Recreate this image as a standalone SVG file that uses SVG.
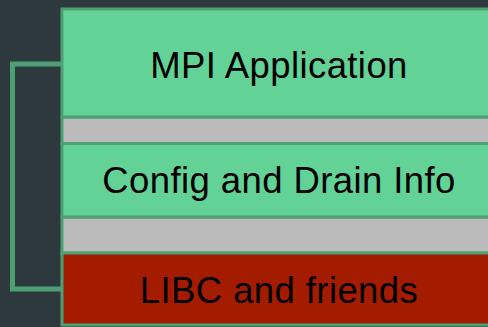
<svg xmlns="http://www.w3.org/2000/svg" width="488" height="327" viewBox="0 0 488 327">
<style>
.box{stroke:#4d9f74;stroke-width:3}
.g{fill:#63d297}
.gray{fill:#bbbbbb}
.r{fill:#a31c00}
text{font-family:"Liberation Sans",Arial,sans-serif;font-size:36.5px;letter-spacing:0.4px;fill:#000;text-anchor:middle}
</style>
<rect width="488" height="327" fill="#2e393d"/>
<g id="connectors">
<path d="M62,64 H12.5 V289 H62" fill="none" stroke="#4d9f74" stroke-width="5"/>
</g>
<g id="gap1"><rect class="box gray" x="62" y="117" width="440" height="26.5"/></g>
<g id="gap2"><rect class="box gray" x="62" y="217" width="440" height="36"/></g>
<g id="mpi"><rect class="box g" x="62" y="9" width="440" height="108"/><text x="279" y="78">MPI Application</text></g>
<g id="config"><rect class="box g" x="62" y="143.5" width="440" height="73.5"/><text x="279" y="193">Config and Drain Info</text></g>
<g id="libc"><rect class="box r" x="62" y="253" width="440" height="72"/><text x="279" y="303">LIBC and friends</text></g>
</svg>
